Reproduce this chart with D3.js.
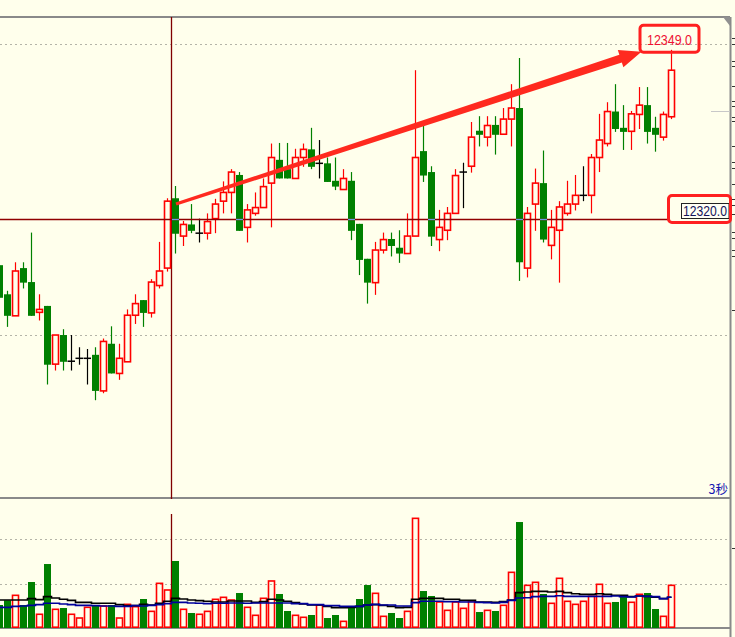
<!DOCTYPE html>
<html><head><meta charset="utf-8">
<script src="https://cdn.jsdelivr.net/npm/d3@7/dist/d3.min.js"></script>
<style>html,body{margin:0;padding:0;background:#ffffec;overflow:hidden}svg{display:block}</style>
</head><body>
<svg id="chart" width="735" height="637"></svg>
<script>
// ---- data (one entry per 3-second bar) ----
const open = [12312.0,12307.0,12303.3,12311.5,12309.1,12303.9,12305.0,12295.0,12300.0,12295.5,
  12296.0,12296.0,12296.6,12290.4,12298.5,12293.4,12295.4,12303.4,12306.0,12303.8,
  12308.5,12311.5,12323.5,12317.0,12319.0,12317.5,12317.5,12320.0,12323.0,12324.5,
  12327.5,12318.5,12320.9,12321.9,12326.1,12330.1,12328.5,12326.9,12330.5,12331.9,
  12329.5,12329.5,12326.5,12325.0,12326.5,12319.1,12313.1,12309.0,12314.6,12316.5,
  12315.0,12314.0,12317.0,12331.6,12328.0,12316.4,12318.0,12320.9,12328.0,12329.0,
  12335.1,12334.0,12336.1,12334.5,12337.1,12339.0,12311.5,12322.5,12326.1,12315.4,
  12318.0,12320.9,12322.5,12324.0,12324.0,12330.5,12332.9,12338.4,12335.6,12335.0,
  12337.9,12339.5,12335.6,12334.0,12337.5];
const high = [12312.0,12307.6,12312.5,12312.5,12317.6,12307.0,12305.0,12300.0,12301.0,12300.0,
  12297.9,12297.6,12297.9,12299.4,12301.5,12298.5,12304.4,12307.0,12306.0,12309.6,
  12316.0,12323.5,12325.6,12319.6,12322.5,12320.0,12320.9,12323.4,12326.4,12328.5,
  12328.0,12322.5,12324.5,12326.9,12332.9,12333.0,12333.0,12332.0,12332.9,12335.6,
  12333.5,12330.5,12330.5,12328.5,12328.0,12319.1,12313.1,12316.0,12317.6,12317.6,
  12318.0,12320.9,12345.5,12336.1,12329.0,12321.5,12322.0,12328.5,12329.6,12336.6,
  12337.6,12337.6,12337.6,12339.0,12343.1,12347.6,12322.0,12328.6,12331.7,12321.5,
  12323.0,12326.5,12327.5,12329.0,12331.1,12338.0,12340.0,12343.1,12339.5,12338.5,
  12342.6,12342.6,12337.5,12338.4,12349.0];
const low = [12306.4,12301.4,12303.3,12308.0,12303.3,12302.5,12291.5,12293.9,12293.9,12293.9,
  12294.9,12291.5,12288.8,12290.0,12293.4,12292.3,12295.4,12301.9,12301.4,12303.0,
  12308.0,12310.9,12314.0,12315.3,12317.5,12315.9,12316.4,12317.5,12320.9,12320.9,
  12317.9,12315.9,12320.5,12321.9,12318.5,12326.9,12326.9,12326.9,12328.9,12328.5,
  12326.9,12326.3,12324.9,12325.0,12316.3,12310.3,12305.4,12306.9,12314.0,12313.5,
  12312.4,12314.0,12317.0,12326.3,12315.3,12314.4,12316.3,12320.9,12321.8,12327.9,
  12332.4,12332.4,12331.0,12334.5,12332.4,12309.3,12309.9,12317.9,12315.9,12313.0,
  12309.0,12320.5,12321.4,12323.0,12320.9,12328.0,12332.4,12334.9,12331.8,12331.8,
  12335.4,12332.9,12331.5,12333.4,12337.1];
const close = [12306.4,12303.3,12311.0,12309.0,12303.3,12304.4,12294.9,12300.0,12295.4,12295.5,
  12296.0,12296.0,12290.4,12298.9,12293.4,12296.0,12303.4,12305.4,12303.8,12309.1,
  12311.0,12323.0,12317.4,12319.0,12317.9,12317.5,12319.5,12322.5,12324.5,12328.0,
  12317.9,12321.5,12321.9,12325.5,12330.5,12326.9,12326.9,12330.5,12331.9,12328.9,
  12329.5,12326.3,12325.5,12326.9,12317.9,12312.9,12309.0,12314.6,12316.4,12315.3,
  12314.0,12317.0,12330.5,12327.4,12316.9,12318.5,12320.9,12327.4,12328.0,12334.0,
  12334.4,12336.0,12334.4,12337.1,12339.0,12312.5,12320.9,12326.1,12316.4,12318.5,
  12322.0,12322.5,12324.0,12324.0,12330.5,12333.5,12338.4,12335.4,12334.9,12338.0,
  12339.5,12334.9,12334.4,12337.9,12345.5];
const volume = [518,624,736,518,1036,309,1441,421,450,309,
  225,466,518,495,518,225,533,480,653,375,
  1006,856,1509,421,338,309,375,646,691,631,
  788,466,286,669,1059,766,383,286,241,293,
  518,225,293,150,466,653,968,781,263,338,
  225,375,2470,833,721,586,398,586,443,608,
  360,398,383,511,1254,2387,961,1029,766,556,
  1119,601,533,601,714,984,556,586,721,579,
  759,788,428,263,961];
// black step line (open interest style) and blue step line, in volume-panel units
const blackLine = [631,631,631,631,661,638,706,676,646,623,
  578,578,556,556,556,526,503,503,533,518,
  556,601,668,653,631,616,601,586,586,608,
  608,608,578,593,646,631,601,571,541,518,
  518,488,458,458,465,488,518,526,510,488,
  458,465,646,668,668,668,646,646,623,623,
  586,586,578,593,631,796,811,826,826,811,
  826,796,773,758,758,773,758,736,736,706,
  721,713,691,661,691];
const blueLine = [465,465,488,495,510,526,556,556,541,526,
  510,510,503,495,495,488,488,503,495,510,
  526,548,578,578,563,556,548,556,556,563,
  563,556,563,563,563,563,563,548,548,526,
  526,503,503,488,488,488,518,533,518,518,
  495,495,571,601,601,601,593,593,586,586,
  578,571,563,578,623,676,683,706,713,713,
  728,713,713,713,713,713,713,721,706,698,
  721,713,706,661,691];
const priceGrid = [12300, 12350];
const volumeGrid = [1000, 2000];
const markedHighLabel = "12349.0";
const crossPriceLabel = "12320.0";
const crossPrice = 12320.0;
const crossBar = 22;        // vertical cursor sits at the left edge of this bar
const arrowFrom = {bar: 22, price: 12322.5};
const periodLabel = "3秒";

// ---- layout ----
const BG = "#ffffec", RED = "#ff0000", GREEN = "#008000", FRAME = "#8a8a8a";
const RIGHT = 730, TOP = 17, PBOT = 498, VBOT = 628;
const svg = d3.select("#chart");
svg.append("rect").attr("width",735).attr("height",637).attr("fill",BG);

const N = open.length;
const bars = d3.range(N).map(i => ({i, o:open[i], h:high[i], l:low[i], c:close[i], v:volume[i]}));
const kind = d => d.c > d.o ? "up" : (d.c < d.o ? "down" : "flat");

const x = d3.scaleBand().domain(d3.range(N)).range([-4.5, -4.5 + 8 * N]);
const cx = i => x(i) + x.bandwidth() / 2;
const y = d3.scaleLinear().domain([12272, 12354.64]).range([PBOT, TOP]);
const yv = d3.scaleLinear().domain([0, 2928]).range([VBOT, PBOT]);

// grid lines
const grid = svg.append("g").attr("stroke","#b4b4a8").attr("stroke-width",1).attr("stroke-dasharray","2,3");
grid.selectAll(".pg").data(priceGrid).join("line")
  .attr("x1",0).attr("x2",RIGHT).attr("y1",d=>Math.round(y(d))+0.5).attr("y2",d=>Math.round(y(d))+0.5);
grid.selectAll(".vg").data(volumeGrid).join("line")
  .attr("x1",0).attr("x2",RIGHT).attr("y1",d=>Math.round(yv(d))+0.5).attr("y2",d=>Math.round(yv(d))+0.5);

// frame
const fr = svg.append("g").attr("stroke",FRAME).attr("stroke-width",2);
[TOP, PBOT, VBOT].forEach(v => fr.append("line").attr("x1",0).attr("x2",RIGHT).attr("y1",v).attr("y2",v));
fr.append("line").attr("x1",RIGHT+0.5).attr("x2",RIGHT+0.5).attr("y1",TOP).attr("y2",637);
svg.append("path").attr("d",`M${RIGHT-7},${TOP} L${RIGHT},${TOP} L${RIGHT},${TOP+9} Z`).attr("fill","#909090");
svg.append("line").attr("x1",711).attr("x2",RIGHT).attr("y1",111.5).attr("y2",111.5).attr("stroke","#c8c8c8");
// clipped glyph fragments of the cut-off side panel
const frag = svg.append("g").attr("stroke","#333").attr("stroke-width",1);
[38,44,61,66,86,101,106,117,121,146,162,168,184,199,205,214,232,238,250,256,310,548].forEach(v =>
  frag.append("line").attr("x1",732).attr("x2",735).attr("y1",v+0.5).attr("y2",v+0.5));

// crosshair vertical
const vx = Math.round(x(crossBar)) + 0.5 - 1;
svg.append("line").attr("x1",vx).attr("x2",vx).attr("y1",TOP).attr("y2",PBOT+1).attr("stroke","#800000").attr("stroke-width",1.3);
svg.append("line").attr("x1",vx).attr("x2",vx).attr("y1",514).attr("y2",VBOT).attr("stroke","#800000").attr("stroke-width",1.3);

// candles
const cg = svg.append("g");
bars.forEach(d => {
  const k = kind(d), c = cx(d.i);
  if (k === "up") {
    cg.append("line").attr("x1",c).attr("x2",c).attr("y1",y(d.h)).attr("y2",y(d.c)).attr("stroke",RED).attr("stroke-width",1.2);
    cg.append("line").attr("x1",c).attr("x2",c).attr("y1",y(d.o)).attr("y2",y(d.l)).attr("stroke",RED).attr("stroke-width",1.2);
    cg.append("rect").attr("x",c-3).attr("width",6).attr("y",y(d.c)).attr("height",Math.max(1,y(d.o)-y(d.c)))
      .attr("fill",BG).attr("stroke",RED).attr("stroke-width",1.6);
  } else if (k === "down") {
    cg.append("line").attr("x1",c).attr("x2",c).attr("y1",y(d.h)).attr("y2",y(d.l)).attr("stroke",GREEN).attr("stroke-width",1.2);
    cg.append("rect").attr("x",c-3.5).attr("width",7).attr("y",y(d.o)).attr("height",Math.max(1,y(d.c)-y(d.o))).attr("fill",GREEN);
  } else {
    cg.append("line").attr("x1",c).attr("x2",c).attr("y1",y(d.h)).attr("y2",y(d.l)).attr("stroke","#000").attr("stroke-width",1.2);
    cg.append("line").attr("x1",c-4).attr("x2",c+3.5).attr("y1",y(d.o)).attr("y2",y(d.o)).attr("stroke","#000").attr("stroke-width",1.5);
  }
});

// volume bars
const vg = svg.append("g");
bars.forEach(d => {
  const k = kind(d), c = cx(d.i);
  if (k === "down") {
    vg.append("rect").attr("x",c-3.5).attr("width",7).attr("y",yv(d.v)).attr("height",VBOT-yv(d.v)).attr("fill",GREEN);
  } else {
    vg.append("rect").attr("x",c-3).attr("width",6).attr("y",yv(d.v)).attr("height",VBOT-yv(d.v)-0.8)
      .attr("fill","none").attr("stroke",RED).attr("stroke-width",1.6);
  }
});

// step lines in volume panel
const stepLine = d3.line().x((v,i)=>cx(i)).curve(d3.curveStep);
svg.append("path").attr("d",stepLine.y(v=>yv(v))(blackLine)).attr("fill","none").attr("stroke","#000").attr("stroke-width",1.6);
svg.append("path").attr("d",stepLine.y(v=>yv(v))(blueLine)).attr("fill","none").attr("stroke","#00009c").attr("stroke-width",1.6);

// crosshair horizontal + label box
const hy = Math.round(y(crossPrice)) + 0.5;
const boxL = 668;
svg.append("line").attr("x1",0).attr("x2",boxL).attr("y1",hy).attr("y2",hy).attr("stroke","#900000").attr("stroke-width",1.3);
// lighter overlap where the cursor crosses filled bodies
bars.filter(d => kind(d)==="down" && d.o >= crossPrice && d.c <= crossPrice).forEach(d => {
  svg.append("line").attr("x1",cx(d.i)-3.5).attr("x2",cx(d.i)+3.5).attr("y1",hy).attr("y2",hy).attr("stroke","#6f9fe6").attr("stroke-width",1.3);
});
svg.append("rect").attr("x",681.5).attr("y",hy-16).attr("width",47.5).attr("height",15).attr("fill","#fffff4").attr("stroke","#222").attr("stroke-width",1);
svg.append("text").attr("x",683).attr("y",hy-3.5).attr("font-family","Liberation Sans, Arial, sans-serif").attr("font-size",14)
  .attr("textLength",44).attr("lengthAdjust","spacingAndGlyphs").attr("fill","#14145a").text(crossPriceLabel);
svg.append("rect").attr("x",boxL+0.5).attr("y",hy-24).attr("width",62).attr("height",27).attr("rx",3.5)
  .attr("fill","none").attr("stroke","#ff2020").attr("stroke-width",3);

// marked high label
const lastI = N - 1;
const hx = cx(lastI) - 2, hyTop = y(high[lastI]);
const bw = 59, bh = 27;
const bx = hx - bw/2, by = hyTop + 2.5 - bh;
svg.append("rect").attr("x",bx).attr("y",by).attr("width",bw).attr("height",bh).attr("rx",3.5)
  .attr("fill","none").attr("stroke","#ff2020").attr("stroke-width",3);
svg.append("text").attr("x",bx+7).attr("y",by+19.5).attr("font-family","Liberation Sans, Arial, sans-serif").attr("font-size",14.5)
  .attr("textLength",45).attr("lengthAdjust","spacingAndGlyphs").attr("fill","#ee1133").text(markedHighLabel);

// arrow from candle to label
const s = [cx(arrowFrom.bar) + 0.5, y(arrowFrom.price)];
const t = [bx + 1.5, by + bh - 0.5];
const dx = t[0]-s[0], dy = t[1]-s[1], L = Math.hypot(dx,dy);
const u = [dx/L, dy/L], n = [-u[1], u[0]];
const headLen = 22, hw = 9, w0 = 1.6, w1 = 4;
const b = [t[0]-u[0]*headLen, t[1]-u[1]*headLen];
const P = (p,k,w) => [p[0]+n[0]*w*k, p[1]+n[1]*w*k];
const pts = [P(s,1,w0), P(b,1,w1), P(b,1,hw), t, P(b,-1,hw), P(b,-1,w1), P(s,-1,w0)];
svg.append("path").attr("d","M"+pts.map(p=>p.join(",")).join("L")+"Z").attr("fill","#ff2a1f");

// period label
svg.append("text").attr("x",RIGHT-2).attr("y",PBOT-4).attr("text-anchor","end")
  .attr("font-family","Noto Sans CJK SC, sans-serif").attr("font-size",12.5).attr("fill","#1515b0").text(periodLabel);
</script>
</body></html>
